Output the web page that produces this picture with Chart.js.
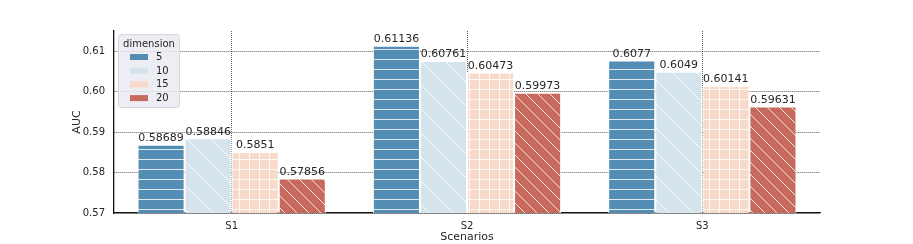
<!DOCTYPE html>
<html>
<head>
<meta charset="utf-8">
<script src="https://cdn.jsdelivr.net/npm/chart.js@4.4.1/dist/chart.umd.min.js"></script>
<style>
  html, body { margin: 0; background: #fff; }
</style>
</head>
<body>
<canvas id="myChart" width="913" height="244"></canvas>
<script>
const scenarios = ['S1', 'S2', 'S3'];
const dims = ['5', '10', '15', '20'];
const auc5  = [0.58689, 0.61136, 0.6077];
const auc10 = [0.58846, 0.60761, 0.6049];
const auc15 = [0.5851, 0.60473, 0.60141];
const auc20 = [0.57856, 0.59973, 0.59631];
const yTicks = [0.57, 0.58, 0.59, 0.60, 0.61];

const colors = ['#548db4', '#d4e3ec', '#f8dacb', '#c76a5d'];
const hatches = [['-', 10], ['\\', 24], ['+', 10], ['\\', 12]];

// white hatch lines on top of the bar colour
function hatch(base, kind, size) {
  const c = document.createElement('canvas');
  c.width = c.height = size;
  const g = c.getContext('2d');
  g.fillStyle = base;
  g.fillRect(0, 0, size, size);
  g.strokeStyle = 'rgba(255,255,255,0.8)';
  g.lineWidth = 1;
  g.beginPath();
  if (kind === '-' || kind === '+') {
    g.moveTo(0, size - 0.5); g.lineTo(size, size - 0.5);
  }
  if (kind === '+') {
    g.moveTo(size - 0.5, 0); g.lineTo(size - 0.5, size);
  }
  if (kind === '\\') {
    for (const o of [-size, 0, size]) {
      g.moveTo(o - 1, -1); g.lineTo(o + size + 1, size + 1);
    }
  }
  g.stroke();
  return g.createPattern(c, 'repeat');
}

const series = [auc5, auc10, auc15, auc20];
const ctx = document.getElementById('myChart');

const barLabels = {
  id: 'barLabels',
  afterDatasetsDraw(chart) {
    const g = chart.ctx;
    g.save();
    g.font = '11px "DejaVu Sans"';
    g.fillStyle = '#262626';
    g.textAlign = 'center';
    g.textBaseline = 'bottom';
    chart.data.datasets.forEach((ds, i) => {
      chart.getDatasetMeta(i).data.forEach((bar, j) => {
        g.fillText(String(ds.data[j]), bar.x, bar.y - 1);
      });
    });
    g.restore();
  }
};

const boxLegend = {
  id: 'boxLegend',
  afterDatasetsDraw(chart) {
    const g = chart.ctx;
    const ca = chart.chartArea;
    const x = ca.left + 4, y = ca.top + 3, w = 61, h = 73;
    g.save();
    g.fillStyle = 'rgba(234,234,242,0.85)';
    g.strokeStyle = '#d6d6de';
    g.lineWidth = 1;
    g.beginPath();
    g.roundRect(x + 0.5, y + 0.5, w, h, 3);
    g.fill();
    g.stroke();
    g.fillStyle = '#262626';
    g.font = '10px "DejaVu Sans"';
    g.textBaseline = 'middle';
    g.textAlign = 'center';
    g.fillText('dimension', x + w / 2 + 0.5, y + 10);
    g.textAlign = 'left';
    chart.data.datasets.forEach((ds, i) => {
      const ry = y + 23 + i * 13.7;
      g.fillStyle = colors[i];
      g.fillRect(x + 12, ry - 3, 18, 6);
      g.fillStyle = '#262626';
      g.fillText(ds.label, x + 38, ry + 0.5);
    });
    g.restore();
  }
};

new Chart(ctx, {
  type: 'bar',
  data: {
    labels: scenarios,
    datasets: dims.map((d, i) => ({
      label: d,
      data: series[i],
      backgroundColor: hatch(colors[i], hatches[i][0], hatches[i][1]),
      borderColor: '#ffffff',
      borderWidth: 1,
      categoryPercentage: 0.8,
      barPercentage: 1.0
    }))
  },
  options: {
    responsive: false,
    animation: false,
    devicePixelRatio: 1,
    layout: { padding: { left: 0, right: 93, top: 31, bottom: 0 } },
    plugins: { legend: { display: false }, tooltip: { enabled: false } },
    scales: {
      x: {
        afterFit: s => { s.height = 31; },
        grid: { offset: false, color: '#333', lineWidth: 0.8, drawTicks: false },
        border: { display: true, color: '#111', width: 1.3, dash: [1, 1] },
        ticks: { color: '#262626', font: { family: 'DejaVu Sans', size: 10 }, padding: 7 },
        title: { display: true, text: 'Scenarios', color: '#262626', font: { family: 'DejaVu Sans', size: 11, lineHeight: 1 }, padding: { bottom: 1 } }
      },
      y: {
        min: 0.57,
        max: 0.615,
        afterFit: s => { s.width = 114; },
        afterBuildTicks: s => { s.ticks = yTicks.map(v => ({ value: v })); },
        grid: { color: '#333', lineWidth: 0.8, drawTicks: false },
        border: { display: true, color: '#111', width: 1.3, dash: [1, 1] },
        ticks: { color: '#262626', font: { family: 'DejaVu Sans', size: 10 }, padding: 9, callback: v => v.toFixed(2) },
        title: { display: true, text: 'AUC', color: '#262626', font: { family: 'DejaVu Sans', size: 11 }, padding: { top: 71 } }
      }
    }
  },
  plugins: [barLabels, boxLegend]
});
</script>
</body>
</html>
